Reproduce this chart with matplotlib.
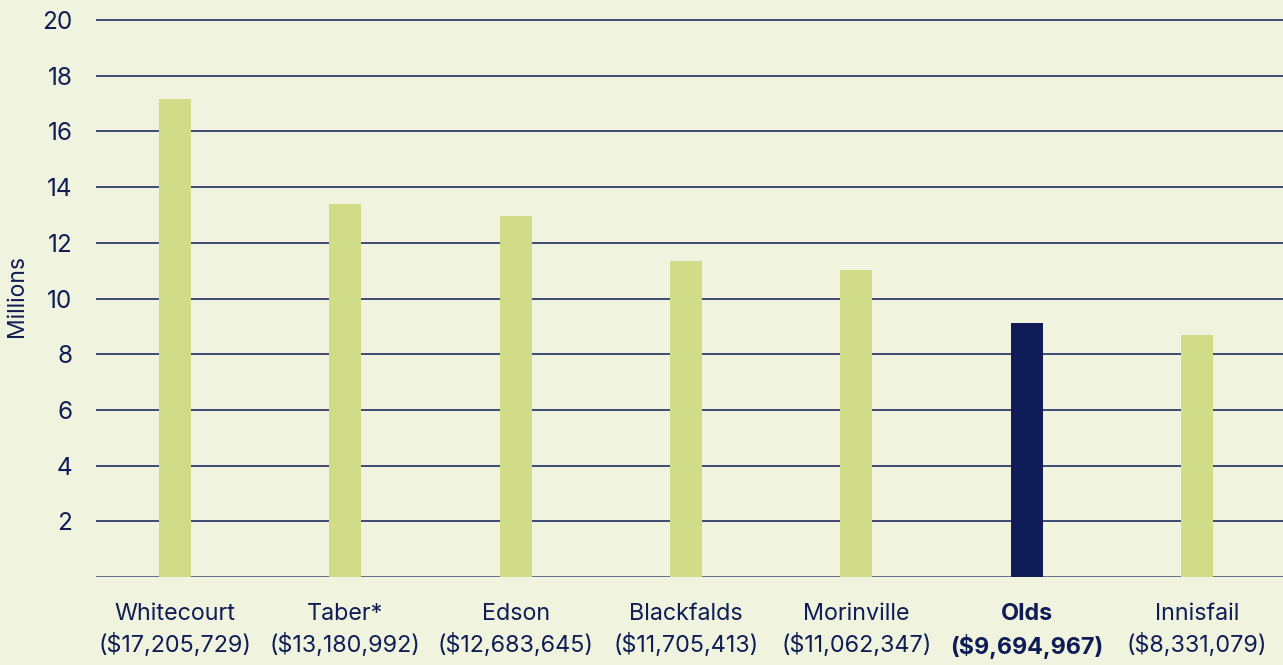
import matplotlib.pyplot as plt
import numpy as np

towns = ['Whitecourt', 'Taber*', 'Edson', 'Blackfalds', 'Morinville', 'Olds', 'Innisfail']
amounts = ['($17,205,729)', '($13,180,992)', '($12,683,645)', '($11,705,413)',
           '($11,062,347)', '($9,694,967)', '($8,331,079)']
# bar heights as drawn (millions)
values = [17.16, 13.39, 12.96, 11.35, 11.02, 9.12, 8.69]
highlight = 'Olds'

bg = '#f0f4df'
green = '#d0dc88'
navy = '#0f1c56'

plt.rcParams['font.family'] = ['Inter', 'DejaVu Sans']

fig = plt.figure(figsize=(12.83, 6.65), dpi=100, facecolor=bg)
ax = fig.add_axes([96 / 1283, 88 / 665, 1187 / 1283, 20.3 * 27.85 / 665])
ax.set_facecolor(bg)

x = np.arange(len(towns))
colors = [navy if t == highlight else green for t in towns]
ax.bar(x, values, width=0.188, color=colors, zorder=3)

ax.set_xlim(-0.464, 6.506)
ax.set_ylim(0, 20.3)
ax.set_yticks(range(2, 21, 2))
ax.yaxis.grid(True, color=navy, linewidth=1.1, zorder=1)
ax.axhline(0, color='#5a6480', linewidth=1.3, zorder=2)

for s in ax.spines.values():
    s.set_visible(False)

ax.set_xticks(x)
ax.set_xticklabels([t + '\n' + a for t, a in zip(towns, amounts)], linespacing=1.42)
for lbl, t in zip(ax.get_xticklabels(), towns):
    if t == highlight:
        lbl.set_fontweight('bold')

ax.tick_params(axis='x', length=0, pad=19, labelsize=16.8, labelcolor=navy)
ax.tick_params(axis='y', length=0, pad=17, labelsize=17.5, labelcolor=navy)

fig.text(17 / 1283, 1 - 296 / 665, 'Millions', rotation=90, ha='center', va='center',
         fontsize=16.5, color=navy)

plt.savefig('out.png', dpi=100, facecolor=bg)
